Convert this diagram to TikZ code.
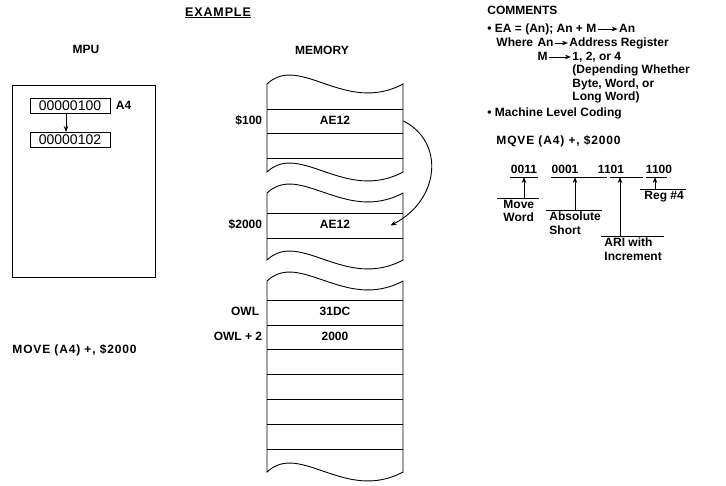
\documentclass[tikz,border=0pt]{standalone}
\usepackage{fontspec}
\setmainfont{Liberation Sans}
\newfontfamily\widefont[LetterSpace=7]{Liberation Sans}
\usetikzlibrary{arrows.meta,positioning,calc}

\begin{document}
\begin{tikzpicture}[x=1pt,y=-1pt,line width=0.9pt,
  lbl/.style={font=\bfseries\fontsize{12}{14}\selectfont,inner sep=1pt,text height=8.5pt,text depth=2.5pt},
  lbltwo/.style={font=\bfseries\fontsize{12}{13.5}\selectfont,align=left,anchor=north west,inner xsep=0pt,inner ysep=1.5pt},
  reg/.style={draw,font=\fontsize{14}{15}\selectfont,inner sep=1pt,minimum width=80pt,minimum height=15pt},
  cell/.style={lbl,minimum width=136pt,minimum height=24pt},
  tip/.style={-{Stealth[length=6pt,width=4.5pt]}}]
  \useasboundingbox (0,0) rectangle (726,485);

  % headings
  \node[lbl,font=\bfseries\widefont\fontsize{12.5}{14}\selectfont] (ex) at (218,13) {\underline{EXAMPLE}};
  \node[lbl] (mpu) at (86,50) {MPU};
  \node[lbl] (mem) at (322,51) {MEMORY};
  \node[lbl,anchor=west] (com) at (486,11) {COMMENTS};

  % MPU
  \draw (12,85) rectangle (155,277);
  \node[reg] (a4) at (70,106) {00000100};
  \node[lbl,right=4pt of a4] (a4n) {A4};
  \node[reg] (a4b) at (70,140) {00000102};
  \draw[tip] ([xshift=-4pt]a4.south) -- ([xshift=-4pt]a4b.north);
  \node[lbl,anchor=west,font=\bfseries\widefont\fontsize{12}{14}\selectfont] (mv) at (11,350) {MOVE (A4) +, \$2000};

  % memory
  \foreach \t/\b in {84/172,193/260,281/472}
    \draw (267,\t) .. controls (300,\t-31) and (345,\t+31) .. (403,\t) -- (403,\b)
          .. controls (345,\b+31) and (300,\b-31) .. (267,\b) -- cycle;
  \foreach \y in {109,133,158,213,238,300,325,349,374,399,424,449}
    \draw (267,\y) -- (403,\y);
  \node[cell] (w100) at (335,121) {AE12};
  \node[cell] (w2000) at (335,225.5) {AE12};
  \node[cell] (wowl) at (335,312.5) {31DC};
  \node[cell] (wowltwo) at (335,337) {2000};
  \node[lbl,left=3pt of w100] (s100) {\$100};
  \node[lbl,left=3pt of w2000] (s2000) {\$2000};
  \node[lbl,left=6pt of wowl] (owl) {OWL};
  \node[lbl,left=3pt of wowltwo] (owltwo) {OWL + 2};
  \draw[tip] (w100.east) .. controls (445,142) and (440,200) .. ([xshift=-13pt]w2000.east);

  % comments
  \node[lbl,anchor=west] (ea) at (486,29) {\textbullet\ EA = (An); An + M};
  \node[lbl,right=20pt of ea] (ean) {An};
  \draw[tip] (ea) -- (ean);
  \node[lbl,anchor=west] (wh) at (495,43) {Where};
  \node[lbl,right=1.5pt of wh] (whan) {An};
  \node[lbl,right=13pt of whan] (adr) {Address Register};
  \draw[tip] (whan) -- (adr);
  \path (whan.west) ++(0,14) node[lbl,anchor=west] (m) {M};
  \path (adr.west) ++(3,14) node[lbl,anchor=west] (mval) {1, 2, or 4};
  \draw[tip] (m) -- (mval);
  \path (mval.west) ++(0,13.5) node[lbl,anchor=west] (dep) {(Depending Whether};
  \path (dep.west) ++(0,13.5) node[lbl,anchor=west] (byt) {Byte, Word, or};
  \path (byt.west) ++(0,13.5) node[lbl,anchor=west] (lng) {Long Word)};
  \node[lbl,anchor=west] (mlc) at (486,113) {\textbullet\ Machine Level Coding};
  \node[lbl,anchor=west,font=\bfseries\widefont\fontsize{12}{14}\selectfont] (mq) at (495,141) {MQVE (A4) +, \$2000};

  % machine code fields
  \node[lbl] (b1) at (524,170) {0011};
  \node[lbl] (b2) at (565,170) {0001};
  \node[lbl] (b3) at (611,170) {1101};
  \node[lbl] (b4) at (659,170) {1100};
  \draw (510,177) -- (538,177);
  \draw (551,177) -- (607,177);
  \draw (610,177) -- (643,177);
  \draw (646,177) -- (667,177);
  \coordinate (f1) at (524,177);
  \coordinate (f2) at (575,177);
  \coordinate (f3) at (620,177);
  \coordinate (f4) at (655,177);
  \node[lbltwo] (lmove) at (503,198) {Move\\Word};
  \node[lbltwo] (labs) at (549,210) {Absolute\\Short};
  \node[lbltwo] (lari) at (604,236) {ARI with\\Increment};
  \node[lbltwo] (lreg) at (644,189) {Reg \#4};
  \draw (497,198) -- (539,198);
  \draw (546,210) -- (602,210);
  \draw (601,236) -- (664,236);
  \draw (640,189) -- (686,189);
  \draw[tip] (f1 |- lmove.north) -- (f1);
  \draw[tip] (f2 |- labs.north) -- (f2);
  \draw[tip] (f3 |- lari.north) -- (f3);
  \draw[tip] (f4 |- lreg.north) -- (f4);
\end{tikzpicture}
\end{document}
